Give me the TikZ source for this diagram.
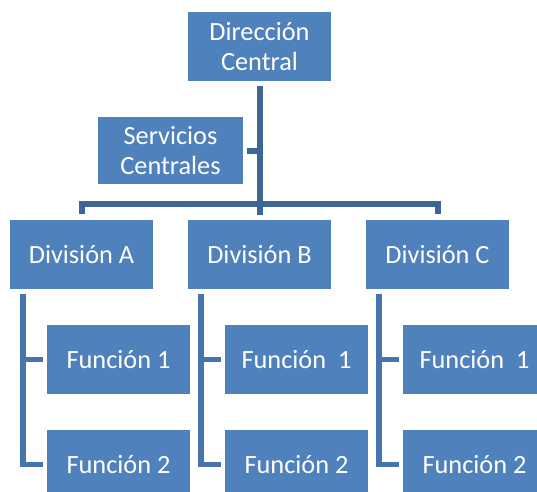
\documentclass[tikz,border=0pt]{standalone}
\usepackage{fontspec}
\setmainfont{Carlito}
\usetikzlibrary{positioning}
\definecolor{boxblue}{HTML}{4F81BD}
\definecolor{trunkblue}{HTML}{3D6696}
\definecolor{linkblue}{HTML}{4674AD}
\tikzset{
  orgbox/.style={fill=boxblue, text=white, minimum width=143pt, minimum height=69pt,
    inner sep=0pt, align=center, font=\fontsize{26.3}{30}\selectfont},
  trunk/.style={draw=trunkblue, line width=6pt},
  link/.style={draw=linkblue, line width=5.7pt}
}
\begin{document}
\begin{tikzpicture}[x=1pt, y=-1pt]
  \useasboundingbox (0,0) rectangle (537,491);
  \clip (0,0) rectangle (537,491);

  % top level
  \node[orgbox] (dir) at (259.5,46.5) {Dirección\\Central};
  \node[orgbox, minimum width=145pt, minimum height=67pt] (serv) at (170.5,150.5) {Servicios\\Centrales};

  % divisions
  \node[orgbox] (divA) at (81.5,254.5) {División A};
  \node[orgbox] (divB) at (259.5,254.5) {División B};
  \node[orgbox] (divC) at (437.5,254.5) {División C};

  % functions
  \node[orgbox] (fA1) at (118.5,359.5) {Función 1};
  \node[orgbox] (fA2) at (118.5,464.5) {Función 2};
  \node[orgbox] (fB1) at (296.5,359.5) {Función\ \ 1};
  \node[orgbox] (fB2) at (296.5,464.5) {Función 2};
  \node[orgbox] (fC1) at (474.5,359.5) {Función\ \ 1};
  \node[orgbox] (fC2) at (474.5,464.5) {Función 2};

  % central trunk, staff link and division bar
  \draw[trunk, shorten <=5pt, shorten >=5pt] (dir) -- (divB);
  \draw[trunk, shorten <=4pt] (serv.east) -- (serv.east -| dir.south);
  \draw[trunk, shorten <=6pt, shorten >=6pt] (divA.north) -- ++(0,-16) -| (divC.north);

  % function links under each division
  \foreach \d/\f in {divA/fA, divB/fB, divC/fC}{
    \coordinate (\d L) at ([xshift=13pt]\d.south west);
    \draw[link, shorten <=5pt, shorten >=4pt] (\d L) |- (\f2.west);
    \draw[link, shorten >=4pt] (\d L |- \f1.west) -- (\f1.west);
  }
\end{tikzpicture}
\end{document}
